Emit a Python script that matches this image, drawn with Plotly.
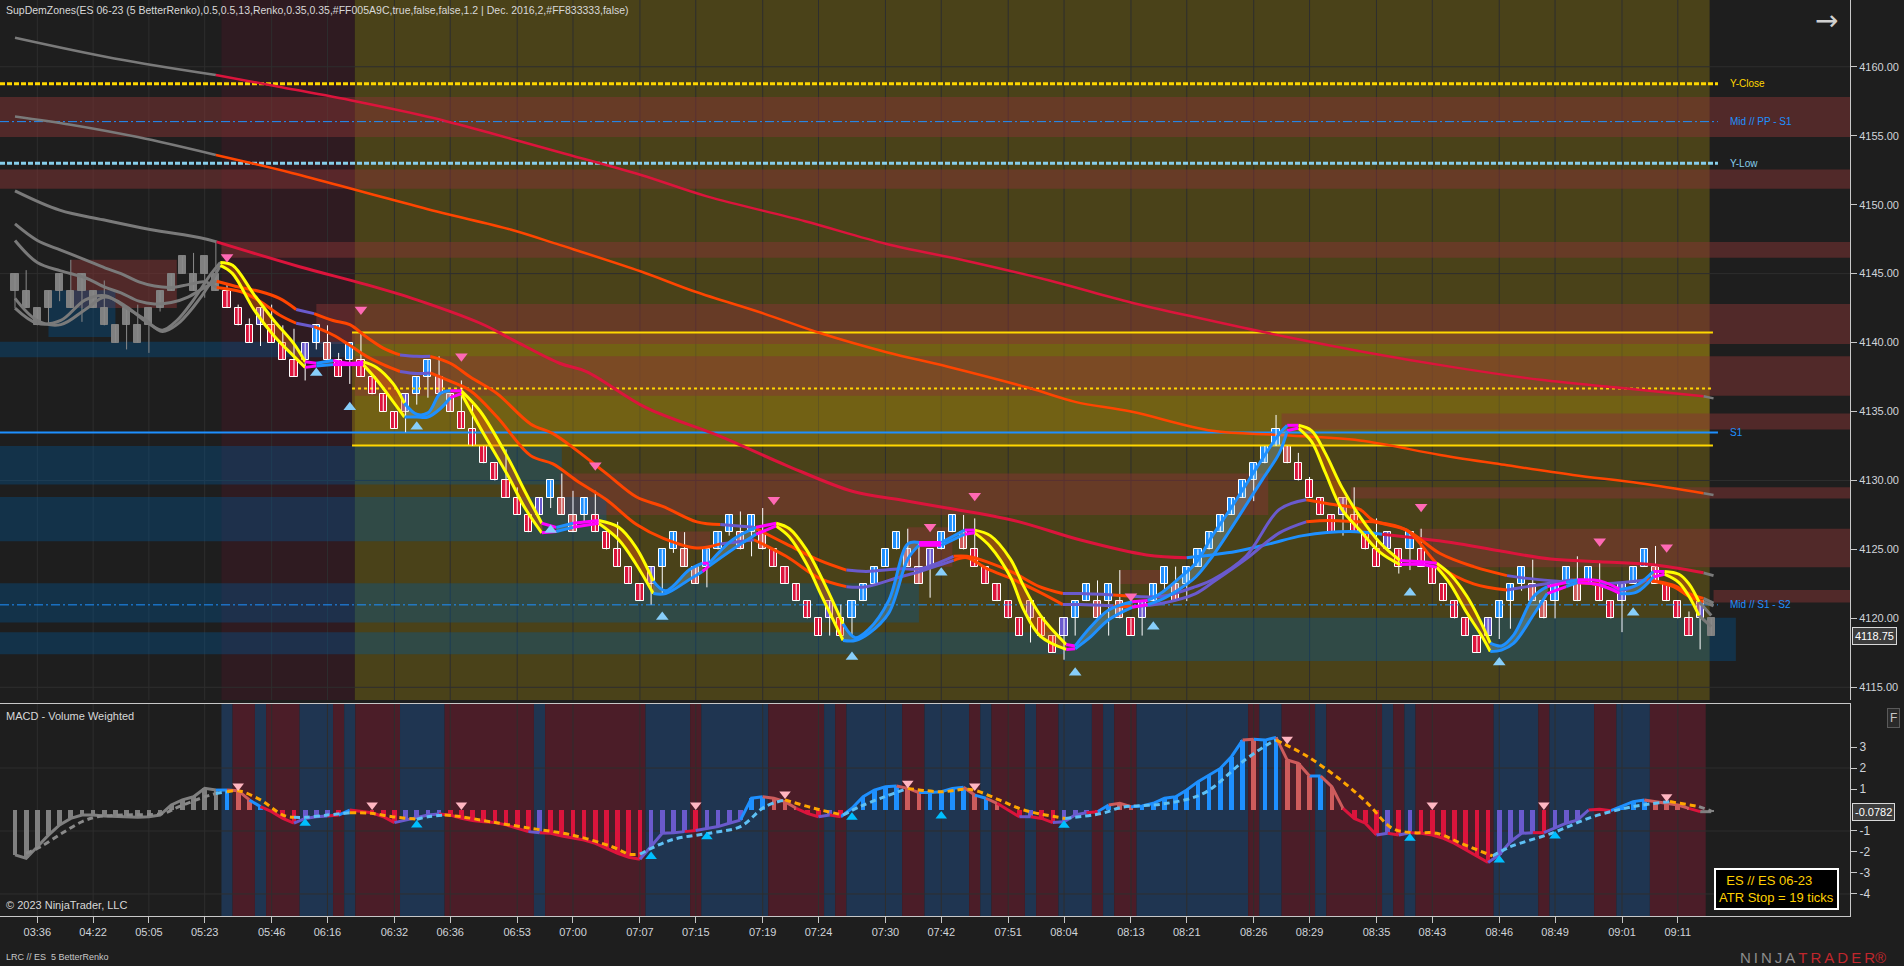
import plotly.graph_objects as go

# ======================= DATA =======================
# Renko bricks (1.25 pt each), bar number 1..153
first_open = 4145.0
closes = [
    4143.75, 4142.5, 4141.25, 4143.75, 4145.0, 4142.5, 4145.0, 4142.5, 4141.25, 4140.0,
    4142.5, 4140.0, 4142.5, 4143.75, 4145.0, 4146.25, 4143.75, 4146.25, 4143.75, 4142.5,
    4141.25, 4140.0, 4142.5, 4140.0, 4138.75, 4137.5, 4140.0, 4141.25, 4138.75, 4137.5,
    4140.0, 4137.5, 4136.25, 4135.0, 4133.75, 4136.25, 4137.5, 4138.75, 4136.25, 4135.0,
    4133.75, 4132.5, 4131.25, 4130.0, 4128.75, 4127.5, 4126.25, 4128.75, 4130.0, 4127.5,
    4126.25, 4128.75, 4126.25, 4125.0, 4123.75, 4122.5, 4121.25, 4123.75, 4125.0, 4126.25,
    4123.75, 4122.5, 4125.0, 4126.25, 4127.5, 4125.0, 4127.5, 4125.0, 4123.75, 4122.5,
    4121.25, 4120.0, 4118.75, 4121.25, 4118.75, 4121.25, 4122.5, 4123.75, 4125.0, 4126.25,
    4123.75, 4122.5, 4125.0, 4126.25, 4127.5, 4125.0, 4123.75, 4122.5, 4121.25, 4120.0,
    4118.75, 4121.25, 4118.75, 4117.5, 4120.0, 4121.25, 4122.5, 4120.0, 4122.5, 4120.0,
    4118.75, 4121.25, 4122.5, 4123.75, 4121.25, 4123.75, 4125.0, 4126.25, 4127.5, 4128.75,
    4130.0, 4131.25, 4132.5, 4133.75, 4131.25, 4130.0, 4128.75, 4127.5, 4126.25, 4128.75,
    4126.25, 4125.0, 4123.75, 4126.25, 4123.75, 4126.25, 4123.75, 4122.5, 4121.25, 4120.0,
    4118.75, 4117.5, 4120.0, 4121.25, 4122.5, 4123.75, 4121.25, 4120.0, 4122.5, 4123.75,
    4121.25, 4123.75, 4121.25, 4120.0, 4122.5, 4123.75, 4125.0, 4122.5, 4121.25, 4120.0,
    4118.75, 4121.25, 4118.75]
# bar colouring state: g grey, r strong down, s weak down, b strong up, p weak up
bar_state = ("g" * 19 + "rrrprrrpbsrbrrrrpbbss" + "rrrrrrrpbssbrrrrrpbb" + "ssbbbsbsrrrrrprbbbbb"
             + "sspbbsrrrrrprrpbbsbs" + "rpbbsbbbbbbbbbsrrrrp" + "rrrprbrrrrrrpbbbssbb" + "sbrrpbbsrrrpg")
wick_high = {2: 4145.25, 6: 4146.0, 9: 4144.5, 12: 4142.75, 17: 4146.5, 19: 4147.25, 20: 4144.25,
             21: 4142.75, 22: 4141.75, 24: 4142.75, 25: 4141.25, 26: 4141.0, 29: 4141.25, 30: 4139.25,
             32: 4140.75, 39: 4139.0, 41: 4137.25, 42: 4135.5, 45: 4132.25, 46: 4129.5, 50: 4130.5,
             51: 4129.25, 53: 4129.25, 55: 4127.0, 61: 4126.25, 66: 4127.75, 68: 4128.0, 75: 4121.0,
             81: 4126.5, 82: 4125.5, 86: 4127.5, 87: 4127.25, 98: 4122.75, 100: 4123.5, 105: 4123.75,
             114: 4134.75, 116: 4132.0, 117: 4130.25, 121: 4129.5, 123: 4127.25, 127: 4126.5,
             137: 4124.25, 141: 4124.5, 143: 4124.0, 148: 4125.25, 151: 4120.5}
wick_low = {1: 4142.5, 4: 4141.25, 5: 4143.0, 7: 4141.5, 11: 4139.5, 13: 4139.25, 14: 4142.25,
            18: 4143.25, 23: 4139.75, 27: 4137.25, 28: 4139.5, 31: 4137.0, 36: 4133.5, 37: 4135.5,
            38: 4136.0, 49: 4128.0, 52: 4127.0, 58: 4121.0, 59: 4121.75, 60: 4124.75, 63: 4122.25,
            65: 4126.0, 67: 4124.5, 74: 4118.75, 76: 4118.75, 83: 4121.5, 92: 4118.25, 95: 4117.0,
            96: 4118.75, 99: 4118.75, 102: 4118.75, 104: 4122.0, 106: 4121.25, 112: 4128.5,
            120: 4126.0, 125: 4123.25, 126: 4123.5, 134: 4118.5, 135: 4119.25, 136: 4122.0,
            139: 4120.0, 145: 4119.0, 152: 4117.75}

# x axis labels (bar positions)
tick_bars = [3, 8, 13, 18, 24, 29, 35, 40, 46, 51, 57, 62, 68, 73, 79, 84, 90, 95, 101, 106,
             112, 117, 123, 128, 134, 139, 145, 150]
tick_labels = ['03:36', '04:22', '05:05', '05:23', '05:46', '06:16', '06:32', '06:36', '06:53',
               '07:00', '07:07', '07:15', '07:19', '07:24', '07:30', '07:42', '07:51', '08:04',
               '08:13', '08:21', '08:26', '08:29', '08:35', '08:43', '08:46', '08:49', '09:01', '09:11']
price_ticks = [4115, 4120, 4125, 4130, 4135, 4140, 4145, 4150, 4155, 4160]
price_grid = [4115, 4130, 4145, 4160]
macd_ticks = [-4, -3, -2, -1, 1, 2, 3]
macd_grid = [-4, -1, 2]
last_price = 4118.75
last_macd = -0.0782

# session columns (bar coordinates)
maroon_from, maroon_to = 19.5, 31.45
olive_from, olive_to = 31.45, 152.85

# opening range
range_hi, range_mid, range_lo = 4140.72, 4136.67, 4132.53
range_from, range_to = 31.2, 153.15

# level lines
level_prices = [4158.77, 4156.02, 4153.0, 4133.47, 4120.98]
level_names = ['Y-Close', 'Mid // PP - S1', 'Y-Low', 'S1', 'Mid // S1 - S2']
level_end = 153.6
level_label_at = 154.5

# supply / demand zones (None = chart edge)
supply_lo = [4154.9, 4151.15, 4146.15, 4139.9, 4136.15, 4133.7, 4128.7, 4123.7, 4121.15, 4127.5, 4142.5, 4125.0, 4123.75, 4122.5]
supply_hi = [4157.8, 4152.55, 4147.3, 4142.8, 4139.0, 4134.85, 4129.5, 4126.5, 4122.05, 4130.5, 4146.0, 4126.3, 4126.6, 4123.5]
supply_from = [None, None, 19.5, 28.0, 31.45, 114.5, 120.7, 126.8, 153.2, 49.8, 6.0, 60.3, 81.0, 100.0]
supply_to = [None, None, None, None, None, None, None, None, None, 113.3, 15.5, 63.3, 85.0, 104.0]
demand_lo = [4138.93, 4140.4, 4129.7, 4125.6, 4119.7, 4117.4, 4116.9]
demand_hi = [4140.06, 4143.8, 4132.5, 4128.8, 4122.55, 4119.0, 4120.05]
demand_from = [None, 4.0, None, None, None, None, 95.0]
demand_to = [31.45, 10.0, 50.0, 54.0, 82.0, 95.0, 155.2]

# slow crimson average
sc_n = [1, 9.9, 19, 25, 31.5, 38.4, 44, 49.8, 57.1, 63, 71.8, 79.1, 86.4, 93.7, 101, 107.2, 115, 122, 130, 137.7, 145, 152.3, 153.2]
sc_v = [4162.1, 4160.6, 4159.4, 4158.5, 4157.5, 4156.3, 4155.1, 4153.8, 4152.15, 4150.6, 4148.8, 4147.15, 4145.9,
        4144.5, 4142.9, 4141.76, 4140.4, 4139.3, 4138.2, 4137.3, 4136.7, 4136.1, 4135.95]
sc_state = "ggg" + "c" * 19 + "g"
# slow orange average
so_n = [1, 6, 12, 19, 25.8, 32.3, 38.8, 45.4, 49.8, 57.1, 61.9, 68.1, 73.2, 79.1, 84.6, 91.9, 96, 101, 108.3, 114.3,
        121.5, 128.7, 134.7, 140.6, 146.6, 152.3, 153.2]
so_v = [4156.4, 4155.8, 4154.9, 4153.6, 4152.3, 4150.9, 4149.5, 4148.2, 4147.08, 4145.15, 4143.7, 4142.1, 4140.67,
        4139.3, 4138.25, 4136.7, 4135.7, 4135.0, 4133.6, 4133.3, 4132.9, 4131.85, 4131.1, 4130.4, 4129.8, 4129.07, 4128.95]
so_state = "gggg" + "o" * 22 + "g"
# medium crimson average
mc_n = [1, 5, 8.9, 13.1, 17.6, 19.07, 26.5, 32.5, 37, 42.7, 45.6, 49.8, 52.2, 57.5, 64.2, 70.1, 76.1, 80.3, 84.5, 90.5,
        96.4, 102.4, 106, 110.4, 113.4, 116.4, 120.6, 123.5, 129.7, 134, 138.6, 143, 147.6, 152.3, 153.2]
mc_v = [4151.0, 4149.6, 4148.9, 4148.2, 4147.6, 4147.3, 4145.5, 4144.2, 4143.1, 4141.4, 4140.2, 4138.5, 4137.9,
        4135.3, 4133.2, 4131.1, 4129.2, 4128.6, 4128.0, 4127.1, 4125.7, 4124.6, 4124.4, 4124.85, 4125.4, 4126.0,
        4126.3, 4126.1, 4125.5, 4124.9, 4124.3, 4124.1, 4123.9, 4123.3, 4123.1]
mc_state = "gggggg" + "c" * 17 + "b" * 5 + "c" * 6 + "g"
# fast orange pair
op_n = [1, 3, 5.1, 7.3, 9.1, 10.5, 12.1, 13.5, 15, 16.5, 18, 19.07,
        21.2, 22.95, 24.7, 26.2, 27.8, 29.5, 31, 32.5, 34, 35.5, 37, 38.2, 40, 41.8, 44.2, 47.2, 49.2, 51.3, 54, 56.7,
        59.1, 62.1, 64.2, 67.2, 70.1, 73.1, 75.5, 77.3, 80.3, 82.1, 85.1, 86.3, 88.1, 90.5, 92.8, 94.9, 96.4, 99.4,
        101.1, 103.8, 106.8, 108.3, 111.3, 114.3, 116.7, 118.8, 121.5, 122.7, 125.7, 128.7, 131.7, 134.7, 136.5,
        140.6, 143, 145.1, 147.2, 149.6, 151, 152.3, 153.2]
op_a = [4147.4, 4145.8, 4145.2, 4144.7, 4144.0, 4143.6, 4143.0, 4142.8, 4142.9, 4143.3, 4144.0, 4144.45,
        4144.0, 4143.7, 4143.2, 4142.4, 4142.1, 4141.6, 4141.3, 4140.4, 4139.6, 4139.1, 4139.0, 4139.0, 4138.5,
        4137.5, 4136.3, 4134.1, 4133.4, 4132.2, 4130.5, 4128.8, 4128.1, 4127.0, 4126.8, 4126.6, 4125.4, 4124.2,
        4123.5, 4123.4, 4123.6, 4123.6, 4124.5, 4124.5, 4124.1, 4123.3, 4122.3, 4121.8, 4121.8, 4121.7, 4121.6,
        4121.6, 4122.3, 4122.8, 4124.5, 4127.9, 4128.6, 4128.3, 4127.9, 4127.1, 4126.4, 4124.7, 4123.75, 4123.1,
        4122.9, 4122.6, 4122.5, 4122.6, 4122.8, 4122.4, 4121.8, 4121.45, 4121.1]
op_b = [4148.6, 4147.4, 4146.7, 4146.0, 4145.4, 4145.0, 4144.4, 4144.1, 4144.0, 4144.2, 4144.4, 4144.0,
        4143.7, 4143.0, 4142.0, 4141.4, 4141.15, 4140.55, 4139.8, 4139.0, 4138.4, 4137.9, 4137.75, 4137.8, 4137.2,
        4136.5, 4134.6, 4131.8, 4131.2, 4130.0, 4128.6, 4126.8, 4125.8, 4125.1, 4125.4, 4125.7, 4124.5, 4122.9,
        4122.3, 4122.3, 4123.0, 4123.4, 4124.2, 4124.4, 4123.6, 4122.8, 4121.9, 4121.0, 4121.0, 4120.9, 4120.85,
        4121.1, 4121.8, 4122.6, 4124.3, 4126.2, 4127.0, 4127.1, 4127.0, 4127.0, 4126.4, 4123.75, 4122.5, 4122.05,
        4122.3, 4122.8, 4122.4, 4122.05, 4122.8, 4122.3, 4121.6, 4121.2, 4120.9]
op_state = ("g" * 12 + "oooop" + "ooooo" + "pp" + "o" * 11 + "p" + "ooo" + "pppp" + "ooooo" + "pp" + "o"
            + "pppppp" + "ooooooo" + "pp" + "o" + "pp" + "ooo" + "g")
# fast band (two lines)
band_n = [1, 3, 5.1, 7.3, 9.1, 11, 12.6, 14.2, 15.5, 17, 18.5, 19.4,
          20.5, 22.4, 24.2, 26, 27, 28, 29.5, 31, 32.2, 33.4, 34.9, 35.9, 37, 38, 39.1, 40, 41, 42.7, 45.2, 46.7, 48.2,
          49.5, 51, 53.3, 55.1, 56.6, 58.2, 59.3, 61.4, 62.6, 63.2, 65.3, 67.4, 69.2, 70.4, 71.9, 73.3, 75.2, 76.3,
          77.5, 79.3, 81, 82, 84, 86.1, 87, 88.4, 90.2, 91.4, 92.9, 95.2, 96, 97.3, 99, 101.1, 102.5, 103.8, 105.3,
          106.8, 108.3, 109.8, 111.3, 112.8, 114.3, 115, 116, 117.2, 118.4, 119.9, 121.5, 123.3, 125.1, 127, 128.4,
          129.6, 131.1, 132.3, 133.2, 134.2, 135.3, 137.1, 138.3, 140, 141, 143.1, 144.8, 146.3, 147.8, 148.8,
          150.1, 151, 151.9, 153]
band_hi = [4143.2, 4141.6, 4141.3, 4142.4, 4143.3, 4142.6, 4141.6, 4140.9, 4141.6, 4143.1, 4144.9, 4145.8,
           4145.6, 4143.5, 4141.6, 4139.9, 4138.6, 4138.5, 4138.7, 4138.5, 4138.6, 4138.2, 4137.0, 4135.6, 4134.8,
           4134.9, 4136.3, 4136.5, 4136.5, 4135.0, 4131.6, 4129.2, 4126.9, 4126.6, 4126.9, 4127.1, 4126.6, 4125.2,
           4122.7, 4122.0, 4123.5, 4124.0, 4124.0, 4125.7, 4126.6, 4126.9, 4126.5, 4125.0, 4122.9, 4119.6, 4118.6,
           4119.2, 4121.3, 4125.4, 4125.5, 4125.5, 4126.4, 4126.4, 4126.0, 4124.3, 4122.3, 4120.2, 4118.1, 4118.0,
           4119.3, 4120.6, 4121.2, 4121.3, 4121.9, 4122.9, 4124.0, 4126.0, 4127.8, 4129.7, 4131.6, 4133.4, 4134.0,
           4134.0, 4133.6, 4132.0, 4129.5, 4127.4, 4125.5, 4124.2, 4124.1, 4124.0, 4123.2, 4121.6, 4119.8, 4118.2,
           4118.0, 4118.8, 4121.6, 4122.3, 4122.6, 4122.8, 4122.7, 4122.1, 4122.4, 4123.4, 4123.4, 4123.2, 4122.5,
           4121.2, 4120.2]
band_lo = [4142.5, 4141.4, 4141.6, 4143.1, 4143.4, 4142.5, 4141.7, 4140.8, 4141.3, 4142.6, 4144.3, 4145.6,
           4145.0, 4142.4, 4140.5, 4139.0, 4138.2, 4138.3, 4138.4, 4138.4, 4138.4, 4137.3, 4135.7, 4134.6, 4134.6,
           4134.6, 4135.2, 4136.0, 4136.3, 4133.8, 4130.3, 4128.0, 4126.2, 4126.3, 4126.6, 4126.9, 4125.7, 4124.0,
           4121.8, 4121.8, 4122.8, 4123.4, 4123.8, 4125.0, 4126.1, 4126.7, 4125.9, 4124.0, 4121.6, 4118.4, 4118.4,
           4118.9, 4120.4, 4124.3, 4125.3, 4125.3, 4126.1, 4126.2, 4125.2, 4123.0, 4120.6, 4118.7, 4117.75, 4117.8,
           4118.6, 4119.9, 4120.8, 4121.0, 4121.4, 4122.1, 4123.0, 4124.5, 4126.3, 4128.2, 4130.1, 4132.0, 4133.6,
           4133.8, 4132.8, 4130.6, 4127.9, 4126.4, 4124.8, 4123.9, 4123.9, 4123.7, 4122.5, 4120.4, 4118.9, 4117.6,
           4117.7, 4118.2, 4120.3, 4121.8, 4122.3, 4122.6, 4122.4, 4121.8, 4121.9, 4123.0, 4123.2, 4122.6, 4121.6,
           4120.2, 4119.4]
band_state = ("g" * 12 + "ddddd" + "f" + "u" + "ff" + "ddd" + "uuuu" + "f" + "dddd" + "f" + "u" + "f" + "ddd"
              + "uuu" + "f" + "uu" + "f" + "dddd" + "uuuuu" + "f" + "u" + "f" + "ddddd" + "f" + "uuu" + "f"
              + "uuuuuuuuu" + "f" + "dddddd" + "ff" + "dddd" + "uuuu" + "f" + "u" + "ff" + "uu" + "f" + "ddd" + "g")

# signal markers on price panel
sig_dn_n = [20, 32, 41, 53, 69, 83, 87, 101, 127, 143, 149]
sig_dn_p = [4146.2, 4142.4, 4139.0, 4131.1, 4128.6, 4126.65, 4128.9, 4121.6, 4128.1, 4125.6, 4125.15]
sig_up_n = [28, 31, 37, 49, 59, 76, 84, 96, 103, 126, 134, 146]
sig_up_p = [4137.8, 4135.3, 4133.9, 4126.4, 4120.1, 4117.2, 4123.3, 4116.06, 4119.4, 4121.86, 4116.8, 4120.4]

# MACD (volume weighted), one value per bar
macd = [-2.14, -2.30, -1.75, -1.20, -0.71, -0.40, -0.24, -0.24, -0.29, -0.32,
        -0.32, -0.35, -0.32, -0.24, 0.24, 0.48, 0.63, 1.03, 0.95, 0.95,
        0.92, 0.48, 0.16, -0.08, -0.40, -0.63, -0.40, -0.32, -0.29, -0.24,
        0.00, -0.08, -0.13, -0.32, -0.60, -0.48, -0.35, -0.24, -0.19, -0.24,
        -0.40, -0.50, -0.56, -0.60, -0.71, -0.87, -1.03, -1.08, -1.11, -1.24,
        -1.35, -1.43, -1.59, -1.83, -2.06, -2.25, -2.35, -1.75, -1.11, -1.08,
        -1.03, -0.98, -0.87, -0.79, -0.63, -0.48, 0.56, 0.63, 0.56, 0.40,
        0.08, -0.16, -0.32, -0.24, -0.32, 0.08, 0.63, 0.95, 1.11, 1.14,
        1.03, 0.83, 0.83, 0.87, 1.03, 1.08, 0.71, 0.56, 0.32, 0.00,
        -0.32, -0.32, -0.40, -0.60, -0.56, -0.24, -0.13, -0.08, 0.24, 0.32,
        0.16, 0.19, 0.32, 0.56, 0.63, 0.95, 1.35, 1.67, 1.98, 2.54,
        3.33, 3.37, 3.33, 3.46, 2.38, 2.22, 1.62, 1.62, 1.11, 0.08,
        -0.40, -0.63, -1.19, -1.11, -1.19, -1.08, -1.11, -1.19, -1.35, -1.59,
        -1.90, -2.22, -2.50, -2.14, -1.51, -1.11, -1.08, -1.08, -0.87, -0.63,
        -0.48, 0.00, 0.03, -0.03, 0.19, 0.40, 0.48, 0.40, 0.32, 0.24,
        0.08, -0.08, -0.08]
macd_state = ("g" * 19 + "bssbrrrppprbrrrrppppr" + "rrrrrrrprrrrrrrrrppp" + "prppppbbsssrrprbbbbb"
              + "ssbbbbsbsrrprrppprbs" + "sbbbbbbbbbbsbbsssbss" + "rrrprprrrrrrrpppprpp" + "pprrbbbssssrg")
sg_n = [2, 3.3, 5.2, 7, 8.4, 10.6, 14.3, 15.7, 18, 19, 20, 21, 23, 25, 26, 27, 29, 31, 32.9, 34.8, 37, 38, 39.5, 41,
        43.6, 47.2, 50.9, 54.5, 56, 57, 59.8, 63.5, 66, 68.2, 70, 72.6, 75.2, 76.7, 78.9, 81, 84, 86.6, 89.2, 91.4,
        95.1, 98.4, 100.2, 103.9, 107.5, 111.2, 113.4, 114, 116.6, 119.6, 122.2, 124.4, 126.2, 128.4, 130.6, 133.4,
        135, 138.7, 142.4, 146, 149.3, 151.9, 153]
sg_v = [-2.06, -1.75, -1.11, -0.56, -0.32, -0.24, -0.16, 0.16, 0.63, 0.79, 0.87, 0.92, 0.48, -0.24, -0.35, -0.35,
        -0.24, -0.13, -0.16, -0.32, -0.44, -0.32, -0.24, -0.32, -0.56, -0.87, -1.19, -1.75, -2.1, -2.1, -1.43,
        -1.08, -0.79, 0.16, 0.48, 0.08, -0.24, 0.16, 0.63, 1.03, 0.87, 0.98, 0.48, 0.0, -0.4, -0.16, 0.13, 0.29,
        0.79, 2.38, 3.17, 3.33, 2.62, 1.51, 0.32, -0.87, -1.08, -1.11, -1.59, -2.19, -1.75, -1.11, -0.32, 0.16,
        0.4, 0.16, -0.05]
sg_state = ("g" * 10 + "boooo" + "bbb" + "ooo" + "bb" + "ooooooo" + "bbbbb" + "oo" + "bbb" + "ooooo"
            + "bbbbbbb" + "oooooooo" + "bbbbb" + "o" + "g")
macd_dn_n = [21, 33, 41, 62, 70, 81, 87, 115, 128, 138, 149]
macd_dn_v = [1.14, 0.24, 0.24, 0.24, 0.76, 1.27, 1.14, 3.37, 0.24, 0.24, 0.63]
macd_up_n = [27, 37, 58, 63, 76, 84, 95, 126, 134, 139]
macd_up_v = [-0.63, -0.71, -2.22, -1.27, -0.35, -0.29, -0.73, -1.35, -2.38, -1.24]

# ======================= STYLE =======================
W, H = 1904, 966
PLOT_W, PLOT_H = 1850, 916
XMIN, XMAX = -0.344, 165.43
YMIN, YMAX = 4114.08, 4164.84
MMIN, MMAX = -5.05, 5.05
BG = '#1e1e1e'
GRID = '#2e2e2e'
AXC = '#d0d4da'
FONT = 'Liberation Sans, Arial, sans-serif'
NARROW = 'Liberation Sans Narrow, Arial Narrow, Liberation Sans, Arial, sans-serif'
BAR_COL = {'g': '#808080', 'r': '#DC143C', 's': '#CD5C5C', 'b': '#1E90FF', 'p': '#6A5ACD'}
LINE_COLS = {'g': '#7a7a7a', 'c': '#DC143C', 'o': '#FF4500', 'b': '#1E90FF', 'p': '#6A5ACD'}
BAND_COLS = {'g': '#7a7a7a', 'd': '#FFFF00', 'u': '#1E90FF', 'f': '#FF00FF'}
BAND_FILL = {'d': 'rgba(255,100,0,0.38)', 'u': 'rgba(150,190,200,0.32)'}
SIG_COLS = {'g': '#8a8a8a', 'o': '#FFA500', 'b': '#5EC0F5'}
LEVEL_COL = ['#FFD700', '#1E90FF', '#87CEEB', '#1E90FF', '#1E90FF']
LEVEL_W = [3, 1, 3, 2, 1]
LEVEL_DASH = ['5px,2px', '9px,3px,2px,3px', '5px,2px', 'solid', '9px,3px,2px,3px']

fig = go.Figure()
shapes = []


def px_x(px):
    return px / PLOT_W


def px_y(py):
    return (PLOT_H - py) / PLOT_H


def split_runs(xs, states):
    runs, i, n = [], 1, len(xs)
    while i < n:
        s = states[i]
        j = i
        while j + 1 < n and states[j + 1] == s:
            j += 1
        runs.append((s, i - 1, j))
        i = j + 1
    return runs


def colored_line(xs, ys, states, cols, width, xa='x', ya='y', dash=None, shape='spline'):
    assert len(xs) == len(ys) == len(states), (len(xs), len(ys), len(states))
    groups = {}
    for s, a, b in split_runs(xs, states):
        gx, gy = groups.setdefault(s, ([], []))
        gx.extend(list(xs[a:b + 1]) + [None])
        gy.extend(list(ys[a:b + 1]) + [None])
    for s, (gx, gy) in groups.items():
        ln = dict(color=cols[s], width=width, shape=shape)
        if dash:
            ln['dash'] = dash
        fig.add_trace(go.Scatter(x=gx, y=gy, mode='lines', line=ln, xaxis=xa, yaxis=ya,
                                 hoverinfo='skip', connectgaps=False))


# ---------- background shapes ----------
def rect(x0, x1, y0, y1, color, yref='y', xref='x'):
    shapes.append(dict(type='rect', xref=xref, yref=yref, x0=x0, x1=x1, y0=y0, y1=y1,
                       fillcolor=color, line=dict(width=0), layer='below'))


rect(maroon_from, maroon_to, 0, 1, '#2f1b21', yref='y domain')
rect(olive_from, olive_to, 0, 1, '#4a4219', yref='y domain')
rect(range_from, olive_to, range_lo, range_hi, 'rgba(170,140,15,0.42)')
for lo, hi, a, b in zip(supply_lo, supply_hi, supply_from, supply_to):
    rect(XMIN if a is None else a, XMAX if b is None else b, lo, hi, 'rgba(131,51,51,0.5)')
for lo, hi, a, b in zip(demand_lo, demand_hi, demand_from, demand_to):
    rect(XMIN if a is None else a, XMAX if b is None else b, lo, hi, 'rgba(0,90,156,0.35)')

# MACD background stripes (rising = blue, falling = red)
stripe = ['b' if s in 'bp' else ('r' if s in 'rs' else '') for s in macd_state]
stripe[-1] = ''
i = 0
while i < len(stripe):
    if stripe[i]:
        j = i
        while j + 1 < len(stripe) and stripe[j + 1] == stripe[i]:
            j += 1
        rect(i + 1 - 0.5, j + 1 + 0.5, 0, 1, '#1f3551' if stripe[i] == 'b' else '#4b1d28',
             yref='y2 domain', xref='x2')
        i = j + 1
    else:
        i += 1

# grid lines
for g in price_grid:
    shapes.append(dict(type='line', xref='x domain', yref='y', x0=0, x1=1, y0=g, y1=g,
                       line=dict(color=GRID, width=1), layer='below'))
for g in macd_grid:
    shapes.append(dict(type='line', xref='x2 domain', yref='y2', x0=0, x1=1, y0=g, y1=g,
                       line=dict(color=GRID, width=1), layer='below'))
for t in tick_bars:
    for yr, xr in (('y domain', 'x'), ('y2 domain', 'x2')):
        shapes.append(dict(type='line', xref=xr, yref=yr, x0=t, x1=t, y0=0, y1=1,
                           line=dict(color=GRID, width=1), layer='below'))

# ---------- level lines ----------
for p, c, w, d in zip(level_prices, LEVEL_COL, LEVEL_W, LEVEL_DASH):
    fig.add_trace(go.Scatter(x=[XMIN, level_end], y=[p, p], mode='lines',
                             line=dict(color=c, width=w, dash=d), hoverinfo='skip'))
for p, d in ((range_hi, 'solid'), (range_mid, 'dot'), (range_lo, 'solid')):
    fig.add_trace(go.Scatter(x=[range_from, range_to], y=[p, p], mode='lines',
                             line=dict(color='#FFD700', width=2, dash=d), hoverinfo='skip'))

# ---------- slow averages ----------
colored_line(sc_n, sc_v, sc_state, LINE_COLS, 2.5)
colored_line(so_n, so_v, so_state, LINE_COLS, 2.5)

# ---------- fast band fill ----------
assert len(band_n) == len(band_hi) == len(band_lo) == len(band_state)
fills = {}
for s, a, b in split_runs(band_n, band_state):
    if s not in BAND_FILL:
        continue
    fx, fy = fills.setdefault(s, ([], []))
    xs = band_n[a:b + 1]
    fx.extend(xs + xs[::-1] + [None])
    fy.extend(band_hi[a:b + 1] + band_lo[a:b + 1][::-1] + [None])
for s, (fx, fy) in fills.items():
    fig.add_trace(go.Scatter(x=fx, y=fy, mode='lines', fill='toself', fillcolor=BAND_FILL[s],
                             line=dict(width=0, shape='spline'), hoverinfo='skip'))

# ---------- renko bricks ----------
assert len(closes) == len(bar_state) == len(macd) == len(macd_state) == 153
bars = list(range(1, len(closes) + 1))
opens = [first_open] + [c - 1.25 if c > p else c + 1.25 for p, c in zip(closes[:-1], closes[1:])]
body_lo = [min(o, c) for o, c in zip(opens, closes)]
body_hi = [max(o, c) for o, c in zip(opens, closes)]
highs = [wick_high.get(n, h) for n, h in zip(bars, body_hi)]
lows = [wick_low.get(n, l) for n, l in zip(bars, body_lo)]
for grey in (True, False):
    wx, wy = [], []
    for n, lo, hi, st in zip(bars, lows, highs, bar_state):
        if (st == 'g') == grey:
            wx += [n, n, None]
            wy += [lo, hi, None]
    fig.add_trace(go.Scatter(x=wx, y=wy, mode='lines', hoverinfo='skip',
                             line=dict(color='#8a8a8a' if grey else '#ffffff', width=1)))
fig.add_trace(go.Bar(x=bars, y=[h - l for h, l in zip(body_hi, body_lo)], base=body_lo, width=0.64,
                     marker=dict(color=[BAR_COL[s] for s in bar_state],
                                 line=dict(color=['#808080' if s == 'g' else '#ffffff' for s in bar_state],
                                           width=1)),
                     hoverinfo='skip'))

# ---------- faster averages ----------
colored_line(mc_n, mc_v, mc_state, LINE_COLS, 3)
colored_line(op_n, op_b, op_state, LINE_COLS, 3)
colored_line(op_n, op_a, op_state, LINE_COLS, 3)
colored_line(band_n, band_lo, band_state, BAND_COLS, 3)
colored_line(band_n, band_hi, band_state, BAND_COLS, 3)

# ---------- signal markers ----------
fig.add_trace(go.Scatter(x=sig_dn_n, y=sig_dn_p, mode='markers', hoverinfo='skip',
                         marker=dict(symbol='triangle-down', size=11, color='#FF69B4')))
fig.add_trace(go.Scatter(x=sig_up_n, y=sig_up_p, mode='markers', hoverinfo='skip',
                         marker=dict(symbol='triangle-up', size=11, color='#87CEFA')))

# ---------- MACD panel ----------
fig.add_trace(go.Bar(x=bars, y=macd, width=0.42, xaxis='x2', yaxis='y2', hoverinfo='skip',
                     marker=dict(color=[BAR_COL[s] for s in macd_state], line=dict(width=0))))
colored_line(bars, macd, macd_state, BAR_COL, 3, xa='x2', ya='y2', shape='linear')
colored_line(sg_n, sg_v, sg_state, SIG_COLS, 3, xa='x2', ya='y2', dash='6px,4px')
fig.add_trace(go.Scatter(x=macd_dn_n, y=macd_dn_v, mode='markers', xaxis='x2', yaxis='y2', hoverinfo='skip',
                         marker=dict(symbol='triangle-down', size=10, color='#FFB6C1')))
fig.add_trace(go.Scatter(x=macd_up_n, y=macd_up_v, mode='markers', xaxis='x2', yaxis='y2', hoverinfo='skip',
                         marker=dict(symbol='triangle-up', size=10, color='#00BFFF')))

# ---------- annotations ----------
ann = []


def text(px, py, s, size=11, color='#d8d8d8', family=FONT, xanchor='left', **kw):
    d = dict(xref='paper', yref='paper', x=px_x(px), y=px_y(py), text=s, showarrow=False,
             xanchor=xanchor, yanchor='middle', font=dict(size=size, color=color, family=family))
    d.update(kw)
    ann.append(d)


text(4, 10, 'SupDemZones(ES 06-23 (5 BetterRenko),0.5,0.5,13,Renko,0.35,0.35,#FF005A9C,true,false,false,1.2 '
            '| Dec. 2016,2,#FF833333,false)', size=10.5, family=NARROW)
text(1826, 20, '\u2192', size=28, color='#d0d0d0', xanchor='center', family='DejaVu Sans, sans-serif')
text(4, 716, 'MACD - Volume Weighted', size=11, family=NARROW)
text(4, 905, '\u00a9 2023 NinjaTrader, LLC', size=11, family=NARROW)
text(4, 957, 'LRC // ES  5 BetterRenko', size=9, color='#c8c8c8', family=NARROW)
text(1738, 957, '<span style="color:#8c8c8c">N\u2009I\u2009N\u2009J\u2009A</span>'
                '<span style="color:#c0272d">\u2009T\u2009R\u2009A\u2009D\u2009E\u2009R\u00ae</span>',
     size=15, color='#8c8c8c')
text(1776, 889, '\u00a0\u00a0ES // ES 06-23\u00a0\u00a0\u00a0\u00a0<br>ATR Stop = 19 ticks', size=13,
     color='#FFD000', xanchor='center', align='left', bgcolor='#000000', bordercolor='#ffffff',
     borderwidth=2, borderpad=3)
text(1893, 718, 'F', size=12, color='#c8c8c8', xanchor='center', bgcolor='#2a2a2a',
     bordercolor='#5a5a5a', borderwidth=1, borderpad=2)
# last value labels
ann.append(dict(xref='paper', yref='y', x=px_x(1852), y=last_price, text=f'{last_price:.2f}',
                showarrow=False, xanchor='left', yanchor='middle',
                font=dict(size=11, color='#ffffff', family=FONT), bgcolor='#3c3c3c',
                bordercolor='#d8d8d8', borderwidth=1, borderpad=2))
ann.append(dict(xref='paper', yref='y2', x=px_x(1852), y=last_macd, text=f'{last_macd:.4f}',
                showarrow=False, xanchor='left', yanchor='middle',
                font=dict(size=11, color='#ffffff', family=FONT), bgcolor='#3c3c3c',
                bordercolor='#d8d8d8', borderwidth=1, borderpad=2))
for p, name, c in zip(level_prices, level_names, LEVEL_COL):
    ann.append(dict(xref='x', yref='y', x=level_label_at, y=p, text=name, showarrow=False,
                    xanchor='left', yanchor='middle', font=dict(size=10, color=c, family=FONT)))

# ---------- layout ----------
main_bottom = (PLOT_H - 700) / PLOT_H
macd_top = (PLOT_H - 704) / PLOT_H
axis_common = dict(zeroline=False, showgrid=False)
fig.update_layout(
    width=W, height=H, margin=dict(l=0, r=W - PLOT_W, t=0, b=H - PLOT_H),
    paper_bgcolor=BG, plot_bgcolor=BG, showlegend=False, hovermode=False,
    barmode='overlay', bargap=0, shapes=shapes, annotations=ann,
    font=dict(family=FONT, color=AXC, size=11),
    xaxis=dict(domain=[0, 1], range=[XMIN, XMAX], anchor='y', showticklabels=False, ticks='',
               tickvals=tick_bars, **axis_common),
    xaxis2=dict(domain=[0, 1], range=[XMIN, XMAX], anchor='y2', tickvals=tick_bars, ticktext=tick_labels,
                ticks='outside', ticklen=6, tickcolor='#c8c8c8', showline=True, linecolor='#c8c8c8',
                mirror=True, tickfont=dict(size=11, color=AXC), **axis_common),
    yaxis=dict(domain=[main_bottom, 1], range=[YMIN, YMAX], anchor='x', side='right',
               tickvals=price_ticks, ticktext=[f'{v:.2f}' for v in price_ticks], ticks='outside',
               ticklen=6, tickcolor='#c8c8c8', showline=True, linecolor='#c8c8c8',
               tickfont=dict(size=11, color=AXC), **axis_common),
    yaxis2=dict(domain=[0, macd_top], range=[MMIN, MMAX], anchor='x2', side='right',
                tickvals=macd_ticks, ticktext=[str(v) for v in macd_ticks],
                ticks='outside', ticklen=6, tickcolor='#c8c8c8', showline=True, linecolor='#c8c8c8',
                tickfont=dict(size=12, color=AXC), **axis_common),
)

fig.write_html("out.html", config={'displayModeBar': False},
               post_script="document.body.style.margin='0';document.body.style.overflow='hidden';")
